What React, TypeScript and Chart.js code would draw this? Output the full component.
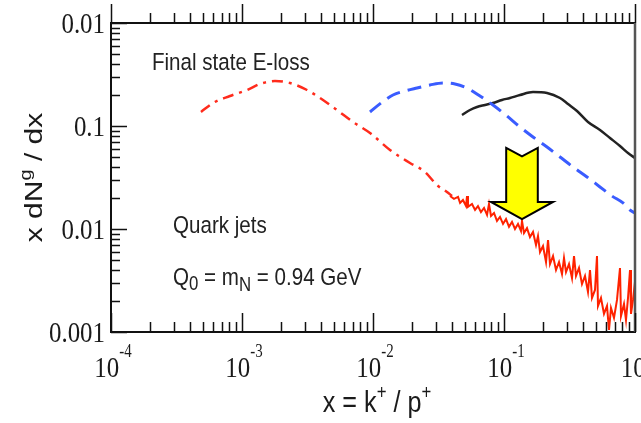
import React, { useEffect, useRef } from "react";
import { Chart, registerables } from "chart.js";

Chart.register(...registerables);

// ---- Data ----
// Red dash-dot (smooth part of quark-jet curve)
const redX = [4.864e-4, 6.006e-4, 8.098e-4, 1.092e-3, 1.372e-3, 1.786e-3, 2.325e-3, 3.135e-3, 4.153e-3, 5.31e-3, 7.036e-3, 9.487e-3, 0.01348, 0.01916, 0.02495, 0.0308, 0.0367, 0.0401];
const redY = [0.1368, 0.1672, 0.1955, 0.2236, 0.2557, 0.2735, 0.2616, 0.2236, 0.1788, 0.143, 0.1094, 0.0855, 0.0585, 0.0437, 0.0358, 0.0267, 0.0229, 0.0209];

// Red noisy (fluctuating tail)
const noiseX = [0.0387, 0.0415, 0.0446, 0.0462, 0.0486, 0.0513, 0.0522, 0.0531, 0.057, 0.0601, 0.0633, 0.0667, 0.0704, 0.0742, 0.0768, 0.0796, 0.0839, 0.0884, 0.0932, 0.0983, 0.1036, 0.1092, 0.1151, 0.1213, 0.1279, 0.1348, 0.1372, 0.1421, 0.1498, 0.1579, 0.1665, 0.1755, 0.1818, 0.1883, 0.1985, 0.2093, 0.2168, 0.2245, 0.2367, 0.2495, 0.263, 0.2772, 0.2871, 0.2974, 0.3135, 0.3305, 0.3423, 0.3545, 0.3737, 0.3939, 0.4153, 0.4377, 0.4534, 0.4696, 0.495, 0.5127, 0.5218, 0.5501, 0.5799, 0.6113, 0.6332, 0.6558, 0.6913, 0.7288, 0.7681, 0.7818, 0.8241, 0.8536, 0.8844, 0.916, 0.9321, 0.9655, 1.0];
const noiseY = [0.0209, 0.0196, 0.0205, 0.0179, 0.0191, 0.0167, 0.0209, 0.0164, 0.0175, 0.0153, 0.0167, 0.0146, 0.016, 0.0137, 0.0175, 0.0134, 0.0143, 0.012, 0.0131, 0.0112, 0.0125, 0.0105, 0.0117, 0.01, 0.0112, 0.00956, 0.012, 0.00915, 0.0102, 0.00836, 0.00935, 0.00699, 0.00855, 0.00598, 0.00684, 0.00478, 0.00782, 0.00457, 0.00547, 0.004, 0.00478, 0.00366, 0.00523, 0.00382, 0.00457, 0.00334, 0.00547, 0.0035, 0.00418, 0.00292, 0.0035, 0.00245, 0.004, 0.00214, 0.00256, 0.00547, 0.00179, 0.00214, 0.0015, 0.00179, 0.00105, 0.00171, 0.00137, 0.00205, 0.00418, 0.00143, 0.00187, 0.00131, 0.00214, 0.004, 0.0015, 0.00205, 0.00306];

// Blue dashed
const blueX = [9.487e-3, 0.01151, 0.01421, 0.01755, 0.02168, 0.02723, 0.03423, 0.04227, 0.05218, 0.06558, 0.08241, 0.1054, 0.1325, 0.1665, 0.213, 0.2676, 0.3363, 0.43, 0.5403, 0.6674, 0.8098, 0.916, 1.0];
const blueY = [0.1368, 0.1672, 0.2, 0.2187, 0.2338, 0.2501, 0.2616, 0.2557, 0.2338, 0.1955, 0.16, 0.1251, 0.0978, 0.0782, 0.0625, 0.05, 0.04, 0.032, 0.0256, 0.0209, 0.0179, 0.0153, 0.0143];

// Black solid
const blackX = [0.0478, 0.055, 0.0622, 0.0716, 0.0824, 0.0965, 0.1111, 0.1325, 0.1665, 0.213, 0.2676, 0.308, 0.3608, 0.4377, 0.5403, 0.6443, 0.7681, 0.8844, 1.0];
const blackY = [0.1279, 0.143, 0.1529, 0.16, 0.1672, 0.1788, 0.187, 0.2, 0.2138, 0.2092, 0.187, 0.1635, 0.1398, 0.1094, 0.0915, 0.0765, 0.0639, 0.0547, 0.0489];

// Axis ticks
const xTickValues = [1e-4, 1e-3, 1e-2, 1e-1, 1];
const xTickExps = ["-4", "-3", "-2", "-1", "0"];
const yTickValues = [1, 0.1, 0.01, 0.001];
const yTickLabels = ["0.01", "0.1", "0.01", "0.001"];

// Annotation anchors (data coordinates)
const arrowX = 0.1372;
const arrowTop = 0.0612;
const arrowNeck = 0.0183;
const arrowTip = 0.0125;
const labelFinal = { x: 2.055e-4, y: 0.35, text: "Final state E-loss" };
const labelQuark = { x: 2.974e-4, y: 0.00915, text: "Quark jets" };
const labelQ0 = { x: 2.974e-4, y: 0.00286 };

type Seg = { t: string; size: number; dy: number };

function drawRich(
  ctx: CanvasRenderingContext2D,
  segs: Seg[],
  x: number,
  y: number,
  align: "left" | "center" | "right",
  family: string,
  sx: number,
  sy: number,
  rotate = 0
) {
  ctx.save();
  ctx.translate(x, y);
  if (rotate) ctx.rotate(rotate);
  ctx.scale(sx, sy);
  ctx.textBaseline = "alphabetic";
  ctx.textAlign = "left";
  let total = 0;
  const widths = segs.map((s) => {
    ctx.font = `${s.size}px "${family}"`;
    const w = ctx.measureText(s.t).width;
    total += w;
    return w;
  });
  let cx = align === "left" ? 0 : align === "center" ? -total / 2 : -total;
  segs.forEach((s, i) => {
    ctx.font = `${s.size}px "${family}"`;
    ctx.fillText(s.t, cx, s.dy);
    cx += widths[i];
  });
  ctx.restore();
}

const decor = {
  id: "decor",
  afterDraw(chart: any) {
    const ctx: CanvasRenderingContext2D = chart.ctx;
    const xs = chart.scales.x;
    const ys = chart.scales.y;
    const a = chart.chartArea;

    // Arrow
    const cx = xs.getPixelForValue(arrowX);
    const yT = ys.getPixelForValue(arrowTop);
    const yN = ys.getPixelForValue(arrowNeck);
    const yP = ys.getPixelForValue(arrowTip);
    ctx.save();
    ctx.beginPath();
    ctx.moveTo(cx - 15.8, yT);
    ctx.lineTo(cx, yT + 8.5);
    ctx.lineTo(cx + 15.8, yT);
    ctx.lineTo(cx + 15.8, yN);
    ctx.lineTo(cx + 31, yN);
    ctx.lineTo(cx, yP);
    ctx.lineTo(cx - 31, yN);
    ctx.lineTo(cx - 15.8, yN);
    ctx.closePath();
    ctx.fillStyle = "#ffff00";
    ctx.fill();
    ctx.lineWidth = 2;
    ctx.lineJoin = "miter";
    ctx.strokeStyle = "#000";
    ctx.stroke();
    ctx.restore();

    // Annotations
    ctx.fillStyle = "#222";
    const sans = "Liberation Sans";
    drawRich(ctx, [{ t: labelFinal.text, size: 24.5, dy: 0 }], xs.getPixelForValue(labelFinal.x), ys.getPixelForValue(labelFinal.y), "left", sans, 0.84, 1);
    drawRich(ctx, [{ t: labelQuark.text, size: 24.5, dy: 0 }], xs.getPixelForValue(labelQuark.x), ys.getPixelForValue(labelQuark.y), "left", sans, 0.84, 1);
    drawRich(
      ctx,
      [
        { t: "Q", size: 24.5, dy: 0 },
        { t: "0", size: 20, dy: 5 },
        { t: " = m", size: 24.5, dy: 0 },
        { t: "N", size: 20, dy: 6 },
        { t: " = 0.94 GeV", size: 24.5, dy: 0 },
      ],
      xs.getPixelForValue(labelQ0.x),
      ys.getPixelForValue(labelQ0.y),
      "left",
      sans,
      0.84,
      1
    );

    // Frame
    ctx.save();
    ctx.strokeStyle = "#111";
    ctx.lineWidth = 2;
    ctx.beginPath();
    ctx.moveTo(a.left, a.top);
    ctx.lineTo(a.right, a.top);
    ctx.moveTo(a.left, a.top - 1);
    ctx.lineTo(a.left, a.bottom);
    ctx.lineTo(a.right + 1, a.bottom);
    ctx.stroke();
    ctx.strokeStyle = "#555";
    ctx.lineWidth = 2.5;
    ctx.beginPath();
    ctx.moveTo(a.right, a.top);
    ctx.lineTo(a.right, a.bottom);
    ctx.stroke();

    // Ticks
    ctx.strokeStyle = "#111";
    ctx.lineWidth = 1.5;
    ctx.beginPath();
    for (let k = -4; k <= 0; k++) {
      for (let m = 1; m <= 9; m++) {
        const v = m * Math.pow(10, k);
        if (v > 1.0001) break;
        const px = Math.round(xs.getPixelForValue(v)) + 0.5;
        const len = m === 1 ? 19 : 10;
        ctx.moveTo(px, a.bottom);
        ctx.lineTo(px, a.bottom - len);
        ctx.moveTo(px, a.top);
        ctx.lineTo(px, a.top - len);
      }
    }
    for (let k = -3; k <= 0; k++) {
      for (let m = 1; m <= 9; m++) {
        const v = m * Math.pow(10, k);
        if (v > 1.0001) break;
        const py = Math.round(ys.getPixelForValue(v)) + 0.5;
        const len = m === 1 ? 16 : 9;
        ctx.moveTo(a.left, py);
        ctx.lineTo(a.left + len, py);
      }
    }
    ctx.stroke();
    ctx.restore();

    // Tick labels
    ctx.fillStyle = "#1a1a1a";
    const serif = "Liberation Serif";
    yTickValues.forEach((v, i) => {
      const py = ys.getPixelForValue(v);
      drawRich(ctx, [{ t: yTickLabels[i], size: 30, dy: 0 }], a.left - 6, py + 10, "right", serif, 0.83, 1);
    });
    xTickValues.forEach((v, i) => {
      const px = xs.getPixelForValue(v);
      drawRich(
        ctx,
        [
          { t: "10", size: 30, dy: 0 },
          { t: xTickExps[i], size: 18, dy: -20 },
        ],
        px + 2,
        a.bottom + 45,
        "center",
        serif,
        0.83,
        1
      );
    });

    // Axis titles
    ctx.fillStyle = "#1a1a1a";
    drawRich(
      ctx,
      [
        { t: "x = k", size: 30, dy: 0 },
        { t: "+", size: 20, dy: -13 },
        { t: " / p", size: 30, dy: 0 },
        { t: "+", size: 20, dy: -13 },
      ],
      (a.left + a.right) / 2 + 4,
      a.bottom + 80,
      "center",
      sans,
      0.84,
      1
    );
    drawRich(
      ctx,
      [
        { t: "x dN", size: 30, dy: 0 },
        { t: "g", size: 20, dy: -14 },
        { t: " / dx", size: 30, dy: 0 },
      ],
      42,
      (a.top + a.bottom) / 2,
      "center",
      sans,
      1,
      0.8,
      -Math.PI / 2
    );
  },
};

function toPts(xs: number[], ys: number[]) {
  return xs.map((x, i) => ({ x, y: ys[i] }));
}

export default function App() {
  const ref = useRef<HTMLCanvasElement | null>(null);
  useEffect(() => {
    if (!ref.current) return;
    const chart = new Chart(ref.current, {
      type: "line",
      data: {
        datasets: [
          {
            data: toPts(redX, redY),
            borderColor: "#ff2b1c",
            borderWidth: 2.5,
            borderDash: [11, 6, 3, 6],
            pointRadius: 0,
            cubicInterpolationMode: "monotone",
            fill: false,
          },
          {
            data: toPts(noiseX, noiseY),
            borderColor: "#ff2200",
            borderWidth: 2,
            pointRadius: 0,
            tension: 0,
            fill: false,
          },
          {
            data: toPts(blueX, blueY),
            borderColor: "#3a5cff",
            borderWidth: 3,
            borderDash: [14, 8],
            pointRadius: 0,
            cubicInterpolationMode: "monotone",
            fill: false,
          },
          {
            data: toPts(blackX, blackY),
            borderColor: "#222",
            borderWidth: 2.5,
            pointRadius: 0,
            cubicInterpolationMode: "monotone",
            fill: false,
          },
        ],
      },
      options: {
        responsive: false,
        animation: false,
        events: [],
        layout: { padding: { left: 111, right: 6, top: 23, bottom: 91 } },
        plugins: { legend: { display: false }, tooltip: { enabled: false } },
        scales: {
          x: { type: "logarithmic", min: 1e-4, max: 1, display: false },
          y: { type: "logarithmic", min: 1e-3, max: 1, display: false },
        },
      },
      plugins: [decor],
    });
    return () => chart.destroy();
  }, []);
  return (
    <div style={{ position: "absolute", left: 0, top: 0, width: 641, height: 423, background: "#fff" }}>
      <canvas ref={ref} width={641} height={423} style={{ display: "block" }} />
    </div>
  );
}
